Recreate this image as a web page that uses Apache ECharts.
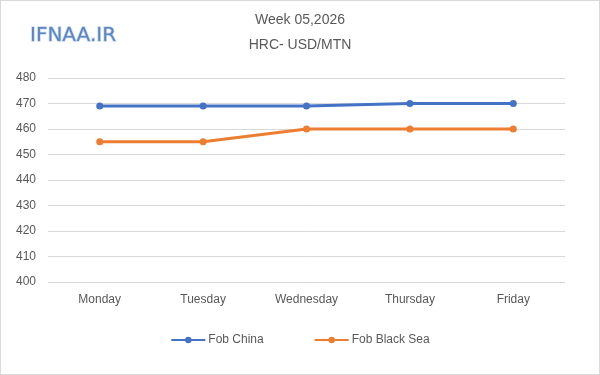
<!DOCTYPE html>
<html><head><meta charset="utf-8">
<script src="https://cdn.jsdelivr.net/npm/echarts@6/dist/echarts.min.js"></script>
<style>html,body{margin:0;padding:0;background:#fff}#c{width:600px;height:375px;box-sizing:border-box;border:1px solid #d9d9d9}</style>
</head><body><div id="c"></div>
<script>
const categories = ['Monday','Tuesday','Wednesday','Thursday','Friday'];
const fobChina = [469, 469, 469, 470, 470];
const fobBlackSea = [455, 455, 460, 460, 460];
const seriesNames = ['Fob China','Fob Black Sea'];
const titleLines = ['Week 05,2026','HRC- USD/MTN'];
const logoText = 'IFNAA.IR';

const chart = echarts.init(document.getElementById('c'));
const font = 'Liberation Sans, Arial, sans-serif';
chart.setOption({
  animation:false,
  textStyle:{fontFamily:font},
  title:[
    {text:titleLines[0]+'\n'+titleLines[1], left:'center', top:2,
     textStyle:{fontSize:14, fontWeight:'normal', color:'#595959', lineHeight:25, fontFamily:font}},
    {text:logoText, left:24, top:20,
     textStyle:{fontSize:20, fontWeight:'normal', color:'#5a86c6', fontFamily:'DejaVu Sans, sans-serif',
       textBorderColor:'#c9d8ee', textBorderWidth:1.5}}
  ],
  grid:{left:47, right:34, top:77, bottom:92, containLabel:false},
  legend:{bottom:23, left:'center', itemGap:50, itemWidth:34, itemHeight:8,
    textStyle:{color:'#595959', fontSize:12, fontFamily:font, padding:[0,0,0,-2]},
    data:seriesNames},
  xAxis:{type:'category', data:categories, boundaryGap:true,
    axisLine:{show:false}, axisTick:{show:false},
    axisLabel:{color:'#595959', fontSize:12, margin:12}},
  yAxis:{type:'value', min:400, max:480, interval:10,
    axisLine:{show:false}, axisTick:{show:false},
    axisLabel:{color:'#595959', fontSize:12, margin:12},
    splitLine:{lineStyle:{color:'#d9d9d9', width:1}}},
  series:[
    {name:seriesNames[0], type:'line', data:fobChina, symbol:'circle', symbolSize:7,
     lineStyle:{color:'#4472C4', width:3}, itemStyle:{color:'#4472C4'}},
    {name:seriesNames[1], type:'line', data:fobBlackSea, symbol:'circle', symbolSize:7,
     lineStyle:{color:'#ED7D31', width:3}, itemStyle:{color:'#ED7D31'}}
  ]
});
</script></body></html>
